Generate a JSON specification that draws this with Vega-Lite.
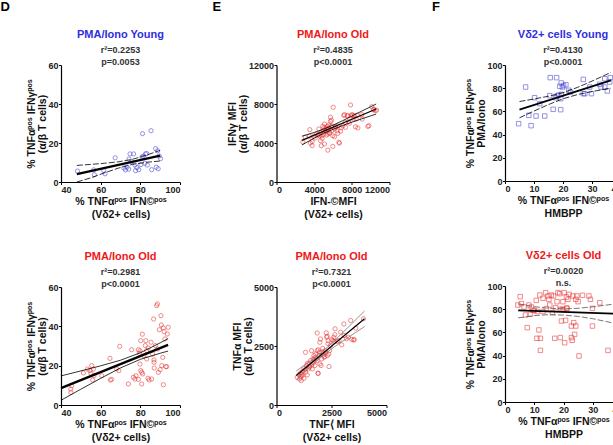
{
"$schema": "https://vega.github.io/schema/vega-lite/v6.json",
"padding": {"left": 0, "top": 1, "right": 2, "bottom": 0},
"background": "white",
"config": {
  "font": "Liberation Sans",
  "view": {"stroke": null},
  "axis": {"labelFont": "Liberation Sans", "labelFontWeight": "bold", "labelFontSize": 9, "labelColor": "#222", "titleFont": "Liberation Sans", "titleFontWeight": "bold", "titleFontSize": 10.5, "titleColor": "#111", "domainColor": "#000", "domainWidth": 1.2, "tickColor": "#000", "tickSize": 2.5, "labelPadding": 0.5, "grid": false, "format": "d"},
  "axisX": {"titleLineHeight": 13.5, "titlePadding": 2},
  "axisY": {"titleLineHeight": 11, "titlePadding": 0},
  "title": {"font": "Liberation Sans", "fontSize": 11, "fontWeight": "bold", "anchor": "middle", "subtitleFont": "Liberation Sans", "subtitleFontSize": 9, "subtitleFontWeight": "bold", "subtitleColor": "#333", "subtitlePadding": 5.5, "subtitleLineHeight": 12.5, "offset": -6}
},
"datasets": {
  "p1": [{"x":48.3,"y":5.6},{"x":56.5,"y":6.2},{"x":56.8,"y":3.7},{"x":61.6,"y":5.8},{"x":62.2,"y":4.2},{"x":67.3,"y":12.4},{"x":71.7,"y":7.2},{"x":72.5,"y":6.2},{"x":73.3,"y":7.6},{"x":74.1,"y":6.6},{"x":74.3,"y":11.8},{"x":74.8,"y":14.4},{"x":75.6,"y":10.4},{"x":76.6,"y":14.4},{"x":77.3,"y":8.7},{"x":77.6,"y":5.8},{"x":78.3,"y":7.4},{"x":79.2,"y":6.3},{"x":80.3,"y":8.9},{"x":80.8,"y":12.8},{"x":81.1,"y":24.8},{"x":81.5,"y":13.2},{"x":82.3,"y":9.6},{"x":82.6,"y":14.4},{"x":83.2,"y":14.6},{"x":83.5,"y":8.7},{"x":85.4,"y":26.3},{"x":85.7,"y":6.3},{"x":87.7,"y":17.1},{"x":88,"y":7.6},{"x":89,"y":6.8},{"x":89.5,"y":13.3},{"x":88.7,"y":16},{"x":90.2,"y":12}],
  "l1": [{"x":48,"y":4.0,"k":"fit"},{"x":90,"y":13.5,"k":"fit"},
    {"x":48,"y":8.5,"k":"hi"},{"x":55,"y":9.03,"k":"hi"},{"x":62,"y":9.61,"k":"hi"},{"x":69,"y":10.36,"k":"hi"},{"x":76,"y":11.64,"k":"hi"},{"x":83,"y":13.73,"k":"hi"},{"x":90,"y":16.23,"k":"hi"},
    {"x":48,"y":0,"k":"lo"},{"x":55,"y":2.13,"k":"lo"},{"x":62,"y":4.71,"k":"lo"},{"x":69,"y":7.14,"k":"lo"},{"x":76,"y":9.02,"k":"lo"},{"x":83,"y":10.09,"k":"lo"},{"x":90,"y":10.77,"k":"lo"}],
  "p2": [{"x":2800,"y":4100},{"x":3050,"y":4580},{"x":3500,"y":4680},{"x":3540,"y":5370},{"x":3600,"y":3990},{"x":3790,"y":4140},{"x":3790,"y":3730},{"x":3960,"y":4680},{"x":4100,"y":4510},{"x":4280,"y":4920},{"x":4450,"y":4850},{"x":4500,"y":5440},{"x":4560,"y":4740},{"x":4670,"y":4240},{"x":4740,"y":5060},{"x":4750,"y":3720},{"x":4810,"y":4750},{"x":4850,"y":4470},{"x":4920,"y":5710},{"x":4990,"y":5270},{"x":5000,"y":4900},{"x":5030,"y":5540},{"x":5100,"y":5950},{"x":5100,"y":3900},{"x":5150,"y":5350},{"x":5270,"y":5500},{"x":5300,"y":4810},{"x":5310,"y":5200},{"x":5380,"y":5710},{"x":5450,"y":5370},{"x":5450,"y":4920},{"x":5450,"y":3270},{"x":5520,"y":5520},{"x":5560,"y":5850},{"x":5630,"y":5090},{"x":5630,"y":4980},{"x":5730,"y":6220},{"x":5730,"y":6640},{"x":5800,"y":5680},{"x":5840,"y":6340},{"x":5880,"y":5270},{"x":5880,"y":5760},{"x":5980,"y":4750},{"x":5980,"y":3650},{"x":6020,"y":7660},{"x":6160,"y":5440},{"x":6160,"y":4640},{"x":6270,"y":5660},{"x":6300,"y":5610},{"x":6440,"y":5250},{"x":6510,"y":4990},{"x":6520,"y":5760},{"x":6620,"y":4070},{"x":6690,"y":3990},{"x":6800,"y":5220},{"x":6870,"y":5570},{"x":7050,"y":5760},{"x":7150,"y":6820},{"x":7220,"y":6910},{"x":7290,"y":6120},{"x":7330,"y":5610},{"x":7500,"y":6790},{"x":7580,"y":6800},{"x":7650,"y":6210},{"x":7750,"y":6020},{"x":7860,"y":7900},{"x":7930,"y":6790},{"x":8000,"y":6910},{"x":8110,"y":6850},{"x":8210,"y":6450},{"x":8280,"y":6800},{"x":8390,"y":5660},{"x":8460,"y":6460},{"x":8570,"y":6850},{"x":8640,"y":5540},{"x":9060,"y":6910},{"x":9100,"y":6450},{"x":9700,"y":5700},{"x":9810,"y":5780},{"x":10120,"y":7730},{"x":10300,"y":7420},{"x":10480,"y":7320},{"x":10620,"y":7370},{"x":10340,"y":7470}],
  "l2": [{"x":2700,"y":4273,"k":"fit"},{"x":10587,"y":7487,"k":"fit"},
    {"x":2700,"y":4700,"k":"hi"},{"x":4000,"y":5080,"k":"hi"},{"x":5000,"y":5420,"k":"hi"},{"x":6000,"y":5830,"k":"hi"},{"x":7000,"y":6280,"k":"hi"},{"x":8000,"y":6760,"k":"hi"},{"x":9000,"y":7250,"k":"hi"},{"x":10587,"y":8000,"k":"hi"},
    {"x":2700,"y":3800,"k":"lo"},{"x":4000,"y":4500,"k":"lo"},{"x":5000,"y":4990,"k":"lo"},{"x":6000,"y":5400,"k":"lo"},{"x":7000,"y":5780,"k":"lo"},{"x":8000,"y":6130,"k":"lo"},{"x":9000,"y":6460,"k":"lo"},{"x":10587,"y":6970,"k":"lo"}],
  "p3": [{"x":4.7,"y":49.4},{"x":7.1,"y":81},{"x":8.2,"y":56.6},{"x":9,"y":47.7},{"x":10.2,"y":71.8},{"x":10.7,"y":56},{"x":12,"y":66.7},{"x":13.7,"y":56},{"x":15.4,"y":73.6},{"x":15.6,"y":89.1},{"x":16.6,"y":61.8},{"x":17.4,"y":71.8},{"x":17.8,"y":89.1},{"x":18,"y":73.3},{"x":18.5,"y":74.1},{"x":18.9,"y":81.6},{"x":19.2,"y":61.5},{"x":19.2,"y":71},{"x":19.4,"y":74.7},{"x":19.4,"y":84.5},{"x":19.8,"y":81},{"x":20.2,"y":82.2},{"x":21,"y":83},{"x":22,"y":78.2},{"x":22.6,"y":76.7},{"x":27,"y":87.6},{"x":27,"y":75.3},{"x":27.5,"y":75.3},{"x":29.2,"y":81},{"x":29.8,"y":75.3},{"x":32.6,"y":83.3},{"x":33.1,"y":81},{"x":34.4,"y":81},{"x":34.4,"y":88.2},{"x":35.3,"y":77.6},{"x":36.1,"y":85.3},{"x":36.3,"y":89.1}],
  "l3": [{"x":5,"y":61.5,"k":"fit"},{"x":36.5,"y":86.8,"k":"fit"},
    {"x":5,"y":68.5,"k":"hi"},{"x":10,"y":70.7,"k":"hi"},{"x":15,"y":73.1,"k":"hi"},{"x":20,"y":76.1,"k":"hi"},{"x":25,"y":80.7,"k":"hi"},{"x":30,"y":86.1,"k":"hi"},{"x":36.5,"y":93.6,"k":"hi"},
    {"x":5,"y":54.5,"k":"lo"},{"x":10,"y":60.3,"k":"lo"},{"x":15,"y":65.9,"k":"lo"},{"x":20,"y":70.9,"k":"lo"},{"x":25,"y":74.5,"k":"lo"},{"x":30,"y":77.1,"k":"lo"},{"x":36.5,"y":80.0,"k":"lo"}],
  "p4": [{"x":44.9,"y":8.1},{"x":45,"y":6.4},{"x":45.4,"y":9.8},{"x":51.3,"y":16.3},{"x":53.4,"y":18.3},{"x":54.6,"y":17.5},{"x":55.1,"y":16.1},{"x":55.5,"y":20},{"x":56,"y":12.7},{"x":56.6,"y":14.9},{"x":56.3,"y":18.3},{"x":60.5,"y":14.9},{"x":64.7,"y":23.7},{"x":64.9,"y":12.7},{"x":65.5,"y":13},{"x":68.1,"y":18.3},{"x":69.2,"y":17.5},{"x":69.6,"y":29.8},{"x":74,"y":10.7},{"x":75.6,"y":28.1},{"x":76.5,"y":14.1},{"x":77.3,"y":13.2},{"x":77.8,"y":14.9},{"x":79,"y":28.1},{"x":79.5,"y":26.3},{"x":79.8,"y":27.6},{"x":79.8,"y":20.8},{"x":80.2,"y":32.7},{"x":80.2,"y":17.5},{"x":80.7,"y":16.6},{"x":80.7,"y":10.7},{"x":81.2,"y":15.8},{"x":81.8,"y":25.1},{"x":82.5,"y":30.2},{"x":82.8,"y":32.7},{"x":83.2,"y":27.6},{"x":83.2,"y":23.4},{"x":83.9,"y":13.6},{"x":84.4,"y":12.7},{"x":85.7,"y":13.2},{"x":86.2,"y":25.9},{"x":86.7,"y":43.7},{"x":86.9,"y":21.7},{"x":87,"y":18.8},{"x":87.6,"y":30.2},{"x":88.2,"y":50.5},{"x":88.6,"y":51.4},{"x":88.7,"y":28.5},{"x":89.1,"y":16.6},{"x":89.6,"y":38.3},{"x":90.4,"y":45.4},{"x":90.6,"y":40.7},{"x":90.8,"y":20},{"x":91.3,"y":24.2},{"x":91.6,"y":39.2},{"x":92,"y":37.3},{"x":91.6,"y":10.3},{"x":92.4,"y":33.6},{"x":92.8,"y":19.5},{"x":93.3,"y":19.5},{"x":93.6,"y":36.1},{"x":94.1,"y":39.5},{"x":81,"y":36},{"x":84,"y":29},{"x":90,"y":18},{"x":79,"y":13},{"x":85.4,"y":31.9},{"x":86.9,"y":22.9}],
  "l4": [{"x":40,"y":8.6,"k":"fit"},{"x":94,"y":30.58,"k":"fit"},
    {"x":40,"y":14.8,"k":"hi"},{"x":50,"y":17.32,"k":"hi"},{"x":60,"y":19.92,"k":"hi"},{"x":70,"y":22.77,"k":"hi"},{"x":80,"y":26.55,"k":"hi"},{"x":90,"y":31.59,"k":"hi"},{"x":94,"y":33.76,"k":"hi"},
    {"x":40,"y":2.4,"k":"lo"},{"x":50,"y":8.02,"k":"lo"},{"x":60,"y":13.56,"k":"lo"},{"x":70,"y":18.85,"k":"lo"},{"x":80,"y":23.21,"k":"lo"},{"x":90,"y":26.31,"k":"lo"},{"x":94,"y":27.4,"k":"lo"}],
  "p5": [{"x":942,"y":1175},{"x":1018,"y":1274},{"x":1049,"y":1104},{"x":1094,"y":1359},{"x":1125,"y":1034},{"x":1170,"y":1246},{"x":1201,"y":1430},{"x":1246,"y":1558},{"x":1246,"y":1133},{"x":1322,"y":1388},{"x":1368,"y":1671},{"x":1398,"y":1274},{"x":1444,"y":1529},{"x":1474,"y":1784},{"x":1505,"y":1642},{"x":1550,"y":1883},{"x":1596,"y":1699},{"x":1626,"y":1529},{"x":1657,"y":1954},{"x":1672,"y":1784},{"x":1702,"y":2096},{"x":1748,"y":1671},{"x":1778,"y":2166},{"x":1809,"y":1954},{"x":1854,"y":1883},{"x":1885,"y":1345},{"x":1900,"y":2336},{"x":1930,"y":2096},{"x":1961,"y":2237},{"x":1976,"y":1742},{"x":2022,"y":1671},{"x":2052,"y":1954},{"x":2082,"y":2237},{"x":2128,"y":2124},{"x":2158,"y":2025},{"x":2204,"y":2308},{"x":2234,"y":2209},{"x":2265,"y":3059},{"x":2280,"y":2875},{"x":2310,"y":2096},{"x":2341,"y":2591},{"x":2386,"y":1628},{"x":2417,"y":2308},{"x":2447,"y":2520},{"x":2508,"y":2775},{"x":2569,"y":2733},{"x":2614,"y":2690},{"x":2660,"y":3228},{"x":2766,"y":2690},{"x":2842,"y":2733},{"x":2918,"y":3087},{"x":2964,"y":2549},{"x":3070,"y":2945},{"x":3177,"y":2804},{"x":3268,"y":2874},{"x":3420,"y":2775},{"x":3526,"y":2775},{"x":3374,"y":3582},{"x":3602,"y":3257},{"x":3952,"y":3653},{"x":1850,"y":3051},{"x":2000,"y":2797},{"x":1970,"y":2655},{"x":2303,"y":2910},{"x":2348,"y":2726},{"x":2606,"y":2867},{"x":2652,"y":2980},{"x":3061,"y":3432},{"x":3515,"y":2754},{"x":1318,"y":2232},{"x":1591,"y":2302},{"x":1848,"y":2302},{"x":2379,"y":2161},{"x":1894,"y":1342},{"x":1100,"y":1200},{"x":1150,"y":1300},{"x":1300,"y":1500},{"x":1400,"y":1750},{"x":1500,"y":1600},{"x":1700,"y":1900},{"x":1750,"y":2000},{"x":2100,"y":2400},{"x":2200,"y":2050}],
  "l5": [{"x":900,"y":1250,"k":"fit"},{"x":4000,"y":3653,"k":"fit"},
    {"x":900,"y":1443,"k":"hi"},{"x":1500,"y":1828,"k":"hi"},{"x":2000,"y":2183,"k":"hi"},{"x":2500,"y":2603,"k":"hi"},{"x":3000,"y":3057,"k":"hi"},{"x":3500,"y":3518,"k":"hi"},{"x":4000,"y":3983,"k":"hi"},
    {"x":900,"y":1057,"k":"lo"},{"x":1500,"y":1602,"k":"lo"},{"x":2000,"y":2023,"k":"lo"},{"x":2500,"y":2377,"k":"lo"},{"x":3000,"y":2699,"k":"lo"},{"x":3500,"y":3012,"k":"lo"},{"x":4000,"y":3323,"k":"lo"}],
  "p6": [{"x":4.4,"y":83.6},{"x":5.2,"y":90.8},{"x":5.6,"y":84.8},{"x":7.6,"y":64.1},{"x":8.2,"y":83.6},{"x":9,"y":81.9},{"x":8.7,"y":75.6},{"x":9.6,"y":79},{"x":10.7,"y":87.6},{"x":10.9,"y":54.9},{"x":11.6,"y":62.1},{"x":11.9,"y":92.2},{"x":12.1,"y":54.9},{"x":12.1,"y":44.5},{"x":13,"y":89.4},{"x":13.9,"y":94.3},{"x":14.1,"y":80.5},{"x":14.7,"y":91.4},{"x":15,"y":88.5},{"x":15.3,"y":83.6},{"x":15.8,"y":92.2},{"x":16.2,"y":77},{"x":16.6,"y":91.4},{"x":17,"y":54.9},{"x":17.3,"y":81.3},{"x":17.8,"y":86.5},{"x":18.1,"y":94.3},{"x":18.7,"y":93.4},{"x":18.9,"y":55.5},{"x":19.3,"y":69.8},{"x":19.6,"y":79.9},{"x":19.8,"y":86.5},{"x":20.2,"y":94.3},{"x":20.4,"y":51.1},{"x":20.7,"y":70.4},{"x":21,"y":90.5},{"x":21.2,"y":80.7},{"x":21.5,"y":88.5},{"x":21.9,"y":92.8},{"x":22.7,"y":55.5},{"x":22.7,"y":65.5},{"x":23,"y":53.2},{"x":23.2,"y":91.4},{"x":23.5,"y":68.4},{"x":23.8,"y":58.3},{"x":24.2,"y":88.5},{"x":24.2,"y":65.5},{"x":24.6,"y":91.4},{"x":25,"y":86.5},{"x":25.3,"y":39.7},{"x":28.7,"y":91.4},{"x":29.2,"y":88.5},{"x":29.9,"y":80.7},{"x":29.9,"y":65.5},{"x":32.4,"y":85.6},{"x":35.2,"y":44.5},{"x":38.1,"y":83.6},{"x":38.9,"y":87.1},{"x":6.5,"y":82},{"x":10,"y":79},{"x":11,"y":78},{"x":13,"y":78},{"x":19,"y":80},{"x":20,"y":79.5},{"x":21,"y":81},{"x":26.5,"y":92},{"x":7,"y":75}],
  "l6": [{"x":4.5,"y":79,"k":"fit"},{"x":39,"y":76,"k":"fit"},
    {"x":4.5,"y":84.5,"k":"hi"},{"x":10,"y":82.2,"k":"hi"},{"x":15,"y":80.8,"k":"hi"},{"x":20,"y":80.3,"k":"hi"},{"x":25,"y":80.8,"k":"hi"},{"x":30,"y":82.0,"k":"hi"},{"x":39,"y":85,"k":"hi"},
    {"x":4.5,"y":72.5,"k":"lo"},{"x":10,"y":74.5,"k":"lo"},{"x":15,"y":75.3,"k":"lo"},{"x":20,"y":74.9,"k":"lo"},{"x":25,"y":73.8,"k":"lo"},{"x":30,"y":71.8,"k":"lo"},{"x":39,"y":67,"k":"lo"}]
},
"spacing": 41,
"hconcat": [
 {"spacing": 30.5, "hconcat": [
  {"title": {"text": "D", "anchor": "start", "dx": -26.5, "fontSize": 13, "color": "#000", "offset": 15}, "spacing": 31,
   "vconcat": [
    {"width": 119, "height": 117,
     "title": {"text": "PMA/Iono Young", "color": "#2f2fe0", "subtitle": ["r²=0.2253", "p=0.0053"]},
     "encoding": {
       "x": {"field": "x", "type": "quantitative", "scale": {"domain": [40, 100], "nice": false, "zero": false}, "axis": {"values": [40, 60, 80, 100], "title": ["% TNFαᵖᵒˢ IFN©ᵖᵒˢ", "(Vδ2+ cells)"]}},
       "y": {"field": "y", "type": "quantitative", "scale": {"domain": [0, 60], "nice": false}, "axis": {"values": [0, 20, 40, 60], "title": ["% TNFαᵖᵒˢ IFNγᵖᵒˢ", "(α/β T cells)"]}}
     },
     "layer": [
       {"data": {"name": "p1"}, "mark": {"type": "point", "shape": "circle", "filled": false, "size": 18, "strokeWidth": 0.8, "color": "#4040d0"}},
       {"data": {"name": "l1"}, "transform": [{"filter": "datum.k === 'fit'"}], "mark": {"type": "line", "color": "#000", "strokeWidth": 2.4}},
       {"data": {"name": "l1"}, "transform": [{"filter": "datum.k !== 'fit'"}], "mark": {"type": "line", "color": "#000", "strokeWidth": 0.8, "strokeDash": [6, 2]}, "encoding": {"detail": {"field": "k"}}}
     ]},
    {"width": 119, "height": 118,
     "title": {"text": "PMA/Iono Old", "color": "#f01818", "subtitle": ["r²=0.2981", "p<0.0001"]},
     "encoding": {
       "x": {"field": "x", "type": "quantitative", "scale": {"domain": [40, 100], "nice": false, "zero": false}, "axis": {"values": [40, 60, 80, 100], "title": ["% TNFαᵖᵒˢ IFN©ᵖᵒˢ", "(Vδ2+ cells)"]}},
       "y": {"field": "y", "type": "quantitative", "scale": {"domain": [0, 60], "nice": false}, "axis": {"values": [0, 20, 40, 60], "title": ["% TNFαᵖᵒˢ IFNγᵖᵒˢ", "(α/β T cells)"]}}
     },
     "layer": [
       {"data": {"name": "p4"}, "mark": {"type": "point", "shape": "circle", "filled": false, "size": 18, "strokeWidth": 0.8, "color": "#e83030"}},
       {"data": {"name": "l4"}, "transform": [{"filter": "datum.k === 'fit'"}], "mark": {"type": "line", "color": "#000", "strokeWidth": 2.4}},
       {"data": {"name": "l4"}, "transform": [{"filter": "datum.k !== 'fit'"}], "mark": {"type": "line", "color": "#000", "strokeWidth": 0.8}, "encoding": {"detail": {"field": "k"}}}
     ]}
   ]},
  {"title": {"text": "E", "anchor": "start", "dx": -15, "fontSize": 13, "color": "#000", "offset": 15}, "spacing": 31,
   "vconcat": [
    {"width": 113, "height": 117,
     "title": {"text": "PMA/Iono Old", "color": "#f01818", "subtitle": ["r²=0.4835", "p<0.0001"]},
     "encoding": {
       "x": {"field": "x", "type": "quantitative", "scale": {"domain": [0, 12000], "nice": false}, "axis": {"values": [0, 4000, 8000, 12000], "title": ["IFN-©MFI", "(Vδ2+ cells)"]}},
       "y": {"field": "y", "type": "quantitative", "scale": {"domain": [0, 12000], "nice": false}, "axis": {"values": [0, 4000, 8000, 12000], "title": ["IFNγ MFI", "(α/β T cells)"]}}
     },
     "layer": [
       {"data": {"name": "p2"}, "mark": {"type": "point", "shape": "circle", "filled": false, "size": 18, "strokeWidth": 0.8, "color": "#e83030"}},
       {"data": {"name": "l2"}, "transform": [{"filter": "datum.k === 'fit'"}], "mark": {"type": "line", "color": "#000", "strokeWidth": 1.2}},
       {"data": {"name": "l2"}, "transform": [{"filter": "datum.k !== 'fit'"}], "mark": {"type": "line", "color": "#000", "strokeWidth": 0.8}, "encoding": {"detail": {"field": "k"}}}
     ]},
    {"width": 110, "height": 118,
     "title": {"text": "PMA/Iono Old", "color": "#f01818", "subtitle": ["r²=0.7321", "p<0.0001"]},
     "encoding": {
       "x": {"field": "x", "type": "quantitative", "scale": {"domain": [0, 5000], "nice": false}, "axis": {"values": [0, 2500, 5000], "title": ["TNF⟨ MFI", "(Vδ2+ cells)"]}},
       "y": {"field": "y", "type": "quantitative", "scale": {"domain": [0, 5000], "nice": false}, "axis": {"values": [0, 2500, 5000], "title": ["TNFα MFI", "(α/β  T cells)"]}}
     },
     "layer": [
       {"data": {"name": "p5"}, "mark": {"type": "point", "shape": "circle", "filled": false, "size": 18, "strokeWidth": 0.8, "color": "#e83030"}},
       {"data": {"name": "l5"}, "transform": [{"filter": "datum.k === 'fit'"}], "mark": {"type": "line", "color": "#000", "strokeWidth": 1.2}},
       {"data": {"name": "l5"}, "transform": [{"filter": "datum.k !== 'fit'"}], "mark": {"type": "line", "color": "#777", "strokeWidth": 0.8}, "encoding": {"detail": {"field": "k"}}}
     ]}
   ]}
 ]},
  {"title": {"text": "F", "anchor": "start", "dx": -34, "fontSize": 13, "color": "#000", "offset": 15}, "spacing": 31,
   "vconcat": [
    {"width": 116, "height": 116,
     "title": {"text": "Vδ2+ cells Young", "color": "#2f2fe0", "subtitle": ["r²=0.4130", "p<0.0001"]},
     "encoding": {
       "x": {"field": "x", "type": "quantitative", "scale": {"domain": [0, 40], "nice": false}, "axis": {"values": [0, 10, 20, 30, 40], "title": ["% TNFαᵖᵒˢ IFN©ᵖᵒˢ", "HMBPP"]}},
       "y": {"field": "y", "type": "quantitative", "scale": {"domain": [0, 100], "nice": false}, "axis": {"values": [0, 20, 40, 60, 80, 100], "title": ["% TNFαᵖᵒˢ IFNγᵖᵒˢ", "PMA/Iono"]}}
     },
     "layer": [
       {"data": {"name": "p3"}, "mark": {"type": "square", "filled": false, "size": 20, "strokeWidth": 0.8, "color": "#4040d0"}},
       {"data": {"name": "l3"}, "transform": [{"filter": "datum.k === 'fit'"}], "mark": {"type": "line", "color": "#000", "strokeWidth": 1.8}},
       {"data": {"name": "l3"}, "transform": [{"filter": "datum.k !== 'fit'"}], "mark": {"type": "line", "color": "#000", "strokeWidth": 0.8, "strokeDash": [6, 2]}, "encoding": {"detail": {"field": "k"}}}
     ]},
    {"width": 117, "height": 116,
     "title": {"text": "Vδ2+ cells Old", "color": "#f01818", "subtitle": ["r²=0.0020", "n.s."]},
     "encoding": {
       "x": {"field": "x", "type": "quantitative", "scale": {"domain": [0, 40], "nice": false}, "axis": {"values": [0, 10, 20, 30, 40], "title": ["% TNFαᵖᵒˢ IFN©ᵖᵒˢ", "HMBPP"]}},
       "y": {"field": "y", "type": "quantitative", "scale": {"domain": [0, 100], "nice": false}, "axis": {"values": [0, 20, 40, 60, 80, 100], "title": ["% TNFαᵖᵒˢ IFNγᵖᵒˢ", "PMA/Iono"]}}
     },
     "layer": [
       {"data": {"name": "p6"}, "mark": {"type": "square", "filled": false, "size": 20, "strokeWidth": 0.8, "color": "#e83030"}},
       {"data": {"name": "l6"}, "transform": [{"filter": "datum.k === 'fit'"}], "mark": {"type": "line", "color": "#000", "strokeWidth": 1.8}},
       {"data": {"name": "l6"}, "transform": [{"filter": "datum.k !== 'fit'"}], "mark": {"type": "line", "color": "#555", "strokeWidth": 0.8, "strokeDash": [6, 2]}, "encoding": {"detail": {"field": "k"}}}
     ]}
   ]}
]
}
